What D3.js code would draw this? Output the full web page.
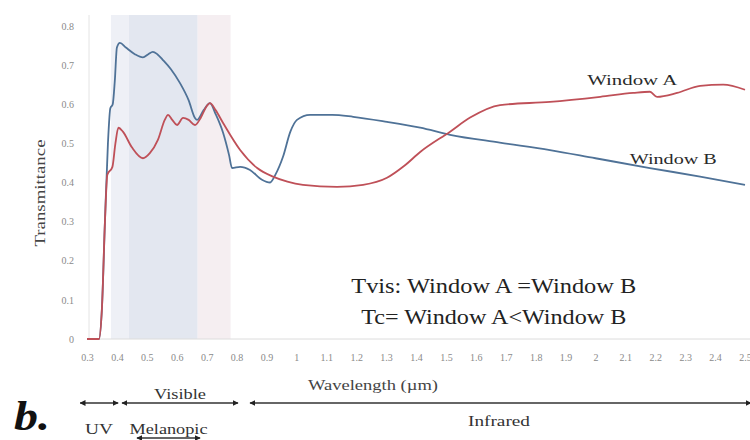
<!DOCTYPE html>
<html>
<head>
<meta charset="utf-8">
<script src="https://cdn.jsdelivr.net/npm/d3@7"></script>
<style>
  body { margin: 0; background: #fff; }
  svg { display: block; }
  text { font-family: "Liberation Serif", "Times New Roman", serif; }
</style>
</head>
<body>
<svg id="chart"></svg>
<script>
// tick labels
var wavelengthTicks = [0.3, 0.4, 0.5, 0.6, 0.7, 0.8, 0.9, 1, 1.1, 1.2, 1.3, 1.4, 1.5, 1.6, 1.7, 1.8, 1.9, 2, 2.1, 2.2, 2.3, 2.4, 2.5]
var transmittanceTicks = [0, 0.1, 0.2, 0.3, 0.4, 0.5, 0.6, 0.7, 0.8]

// [wavelength (um), transmittance]
var windowA = [
  [0.30, 0], [0.34, 0], [0.35, 0.08], [0.36, 0.3], [0.368, 0.42], [0.385, 0.44], [0.395, 0.5],
  [0.405, 0.54], [0.42, 0.53], [0.45, 0.49], [0.487, 0.462], [0.51, 0.475], [0.537, 0.509],
  [0.56, 0.56], [0.571, 0.573], [0.585, 0.56], [0.601, 0.547], [0.621, 0.565], [0.64, 0.56],
  [0.661, 0.547], [0.68, 0.565], [0.70, 0.595], [0.711, 0.603], [0.73, 0.585], [0.755, 0.552],
  [0.812, 0.483], [0.869, 0.437], [0.922, 0.415], [0.97, 0.402], [1.022, 0.394], [1.136, 0.389],
  [1.223, 0.394], [1.303, 0.412], [1.36, 0.442], [1.414, 0.478], [1.514, 0.53], [1.581, 0.566],
  [1.681, 0.598], [1.848, 0.606], [2.016, 0.619], [2.126, 0.629], [2.182, 0.632], [2.206, 0.619],
  [2.273, 0.629], [2.35, 0.647], [2.427, 0.65], [2.5, 0.637]
]

var windowB = [
  [0.30, 0], [0.34, 0], [0.35, 0.08], [0.36, 0.3], [0.37, 0.5], [0.378, 0.59], [0.386, 0.6],
  [0.393, 0.66], [0.40, 0.745], [0.41, 0.757], [0.43, 0.745], [0.46, 0.728], [0.487, 0.72],
  [0.505, 0.728], [0.52, 0.734], [0.535, 0.728], [0.554, 0.713], [0.58, 0.69], [0.611, 0.654],
  [0.64, 0.61], [0.661, 0.565], [0.668, 0.56], [0.69, 0.585], [0.711, 0.603], [0.73, 0.575],
  [0.755, 0.527], [0.775, 0.47], [0.785, 0.437], [0.812, 0.44], [0.845, 0.432], [0.885, 0.407],
  [0.912, 0.40], [0.93, 0.42], [0.955, 0.465], [0.98, 0.53], [1.002, 0.56], [1.046, 0.573],
  [1.12, 0.573], [1.19, 0.568], [1.303, 0.555], [1.414, 0.54], [1.514, 0.522], [1.68, 0.502],
  [1.848, 0.483], [2.0, 0.462], [2.182, 0.437], [2.35, 0.415], [2.5, 0.394]
]

// shaded spectral bands behind the curves
var bandFrom = [0.38, 0.44, 0.67]
var bandTo = [0.44, 0.67, 0.78]
var bandColors = ["#eef0f6", "#e3e7f0", "#f5eef1"]

// spectrum ranges drawn as arrows under the axis
var rangeNames = ["UV", "Visible", "Infrared", "Melanopic"]
var rangeFrom = [0.277, 0.417, 0.845, 0.467]
var rangeTo = [0.404, 0.805, 2.52, 0.678]

var dimensions = {
  width: 750,
  height: 440,
  margin: { top: 15, bottom: 101, right: 5, left: 87 }
}

var svg = d3.select("#chart")
  .attr("width", dimensions.width)
  .attr("height", dimensions.height)

var xScale = d3.scaleLinear()
  .domain([0.3, 2.5])
  .range([dimensions.margin.left, 745])

var yScale = d3.scaleLinear()
  .domain([0, 0.8])
  .range([dimensions.height - dimensions.margin.bottom, 26])

var plotTop = dimensions.margin.top
var plotBottom = yScale(0)

// bands
svg.append("g")
  .selectAll("rect")
  .data(bandFrom)
  .enter()
  .append("rect")
  .attr("x", (d, i) => xScale(d))
  .attr("width", (d, i) => xScale(bandTo[i]) - xScale(d))
  .attr("y", plotTop)
  .attr("height", plotBottom - plotTop)
  .attr("fill", (d, i) => bandColors[i])

// axes
var xAxis = svg.append("g")
  .attr("transform", `translate(0,${plotBottom})`)
  .call(d3.axisBottom(xScale).tickValues(wavelengthTicks).tickFormat(d => String(d)).tickSize(0).tickPadding(15))
xAxis.select(".domain").attr("stroke", "#dcdcdc").attr("d", `M${xScale(0.3) + 2},0H750`)
xAxis.selectAll("text").attr("fill", "#8a8a8a").style("font-size", "10px")

var yAxis = svg.append("g")
  .attr("transform", `translate(${xScale(0.3) + 2},0)`)
  .call(d3.axisLeft(yScale).tickValues(transmittanceTicks).tickFormat(d => String(d)).tickSize(0).tickPadding(15))
yAxis.select(".domain").attr("stroke", "#e4e4e4").attr("d", `M0,${plotTop}V${plotBottom}`)
yAxis.selectAll("text").attr("fill", "#8a8a8a").style("font-size", "10px")

// curves
var line = d3.line()
  .x(d => xScale(d[0]))
  .y(d => yScale(d[1]))
  .curve(d3.curveMonotoneX)

svg.append("path")
  .datum(windowB)
  .attr("d", line)
  .attr("fill", "none")
  .attr("stroke", "#4f7297")
  .attr("stroke-width", 1.8)

svg.append("path")
  .datum(windowA)
  .attr("d", line)
  .attr("fill", "none")
  .attr("stroke", "#bf5058")
  .attr("stroke-width", 1.8)

// labels inside the plot
function label(txt, w, v, size, len, color) {
  svg.append("text")
    .attr("x", xScale(w))
    .attr("y", yScale(v))
    .attr("text-anchor", "middle")
    .attr("textLength", len)
    .attr("lengthAdjust", "spacingAndGlyphs")
    .attr("fill", color)
    .style("font-size", size + "px")
    .text(txt)
}
label("Window  A", 2.123, 0.650, 15, 90, "#2a2a2a")
label("Window  B", 2.26, 0.448, 15, 87, "#2a2a2a")
label("Tvis: Window A =Window B", 1.66, 0.118, 22, 285, "#222")
label("Tc= Window A<Window B", 1.66, 0.038, 22, 265, "#222")

// axis titles
svg.append("text")
  .attr("x", 373)
  .attr("y", 390)
  .attr("text-anchor", "middle")
  .attr("textLength", 130)
  .attr("lengthAdjust", "spacingAndGlyphs")
  .attr("fill", "#444")
  .style("font-size", "14px")
  .text("Wavelength (µm)")

svg.append("text")
  .attr("transform", "translate(45,193) rotate(-90)")
  .attr("text-anchor", "middle")
  .attr("textLength", 107)
  .attr("lengthAdjust", "spacingAndGlyphs")
  .attr("fill", "#444")
  .style("font-size", "14px")
  .text("Transmittance")

// spectrum arrows
var defs = svg.append("defs")
defs.append("marker")
  .attr("id", "head")
  .attr("viewBox", "0 0 10 10")
  .attr("refX", 9)
  .attr("refY", 5)
  .attr("markerWidth", 6)
  .attr("markerHeight", 6)
  .attr("markerUnits", "userSpaceOnUse")
  .attr("orient", "auto-start-reverse")
  .append("path")
  .attr("d", "M0,0L10,5L0,10Z")
  .attr("fill", "#222")

var rowY = [403, 403, 403, 438]
svg.append("g")
  .selectAll("line")
  .data(rangeNames)
  .enter()
  .append("line")
  .attr("x1", (d, i) => xScale(rangeFrom[i]))
  .attr("x2", (d, i) => xScale(rangeTo[i]))
  .attr("y1", (d, i) => rowY[i])
  .attr("y2", (d, i) => rowY[i])
  .attr("stroke", "#333")
  .attr("stroke-width", 1.5)
  .attr("marker-start", "url(#head)")
  .attr("marker-end", "url(#head)")

var nameY = [434, 399, 426, 434]
var nameLen = [28, 52, 62, 78]
svg.append("g")
  .selectAll("text")
  .data(rangeNames)
  .enter()
  .append("text")
  .attr("x", (d, i) => i == 2 ? 499 : (xScale(rangeFrom[i]) + xScale(rangeTo[i])) / 2)
  .attr("y", (d, i) => nameY[i])
  .attr("text-anchor", "middle")
  .attr("textLength", (d, i) => nameLen[i])
  .attr("lengthAdjust", "spacingAndGlyphs")
  .attr("fill", "#333")
  .style("font-size", "15px")
  .text(d => d)

svg.append("text")
  .attr("x", 14)
  .attr("y", 430)
  .attr("textLength", 36)
  .attr("lengthAdjust", "spacingAndGlyphs")
  .attr("fill", "#111")
  .style("font-size", "42px")
  .style("font-weight", "bold")
  .style("font-style", "italic")
  .text("b.")
</script>
</body>
</html>
